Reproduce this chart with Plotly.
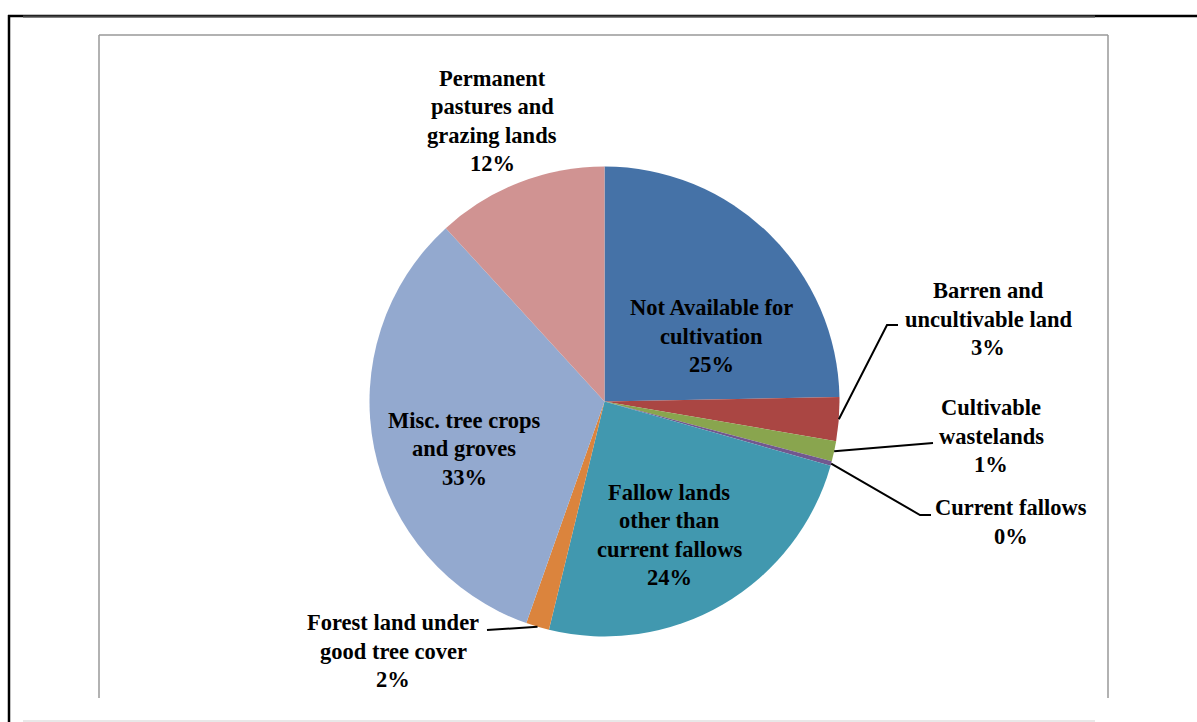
import math
import plotly.graph_objects as go

# ---- data ----
categories = [
    "Not Available for cultivation",
    "Barren and uncultivable land",
    "Cultivable wastelands",
    "Current fallows",
    "Fallow lands other than current fallows",
    "Forest land under good tree cover",
    "Misc. tree crops and groves",
    "Permanent pastures and grazing lands",
]
values = [24.7, 3.0, 1.4, 0.3, 24.4, 1.6, 32.8, 11.8]
pct_labels = ["25%", "3%", "1%", "0%", "24%", "2%", "33%", "12%"]
label_lines = [
    ["Not Available for", "cultivation"],
    ["Barren and", "uncultivable land"],
    ["Cultivable", "wastelands"],
    ["Current fallows"],
    ["Fallow lands", "other than", "current fallows"],
    ["Forest land under", "good tree cover"],
    ["Misc. tree crops", "and groves"],
    ["Permanent", "pastures and", "grazing lands"],
]
colors = ["#4572A7", "#AA4643", "#89A54E", "#71588F",
          "#4198AF", "#DB843D", "#93A9CF", "#D09392"]

# ---- layout constants (pixels) ----
W, H = 1197, 722
CX, CY, R = 604.5, 401.5, 235
LINE_H = 28.5
FONT = dict(family="Liberation Serif, Times New Roman, serif", size=22.5, color="#000000")

# label block centres (px) for each slice
label_pos = [
    (711, 336), (988, 319), (991, 436), (1011, 522),
    (669, 535), (393, 651), (464, 449), (492, 121),
]
# leader line extra points (elbow/end) for outside labels; None = no leader
leaders = [
    None,
    [(887, 325), (898, 325)],
    [(933, 443)],
    [(920, 515), (931, 515)],
    None,
    [(487, 630)],
    None,
    None,
]


def px(x):
    return x / W


def py(y):
    return 1 - y / H


fig = go.Figure()
fig.add_trace(go.Pie(
    labels=categories,
    values=values,
    sort=False,
    direction="clockwise",
    rotation=0,
    marker=dict(colors=colors, line=dict(width=0)),
    textinfo="none",
    hoverinfo="label+percent",
    showlegend=False,
    domain=dict(x=[px(CX - R), px(CX + R)], y=[py(CY + R), py(CY - R)]),
))

annotations = []
shapes = []
total = sum(values)
cum = 0.0
for i, v in enumerate(values):
    mid = (cum + v / 2) / total * 2 * math.pi
    cum += v
    lines = label_lines[i] + [pct_labels[i]]
    lx, ly = label_pos[i]
    n = len(lines)
    for j, t in enumerate(lines):
        yy = ly + (j - (n - 1) / 2) * LINE_H
        annotations.append(dict(
            x=px(lx), y=py(yy), xref="paper", yref="paper",
            text="<b>%s</b>" % t, showarrow=False, font=FONT,
            xanchor="center", yanchor="middle",
        ))
    if leaders[i]:
        sx = CX + R * math.sin(mid)
        sy = CY - R * math.cos(mid)
        pts = [(sx, sy)] + leaders[i]
        path = "M %f,%f " % (px(pts[0][0]), py(pts[0][1]))
        for (a, b) in pts[1:]:
            path += "L %f,%f " % (px(a), py(b))
        shapes.append(dict(type="path", path=path, xref="paper", yref="paper",
                           line=dict(color="#000000", width=2)))

# frame lines
def seg(x0, y0, x1, y1, color, width):
    shapes.append(dict(type="line", xref="paper", yref="paper",
                       x0=px(x0), y0=py(y0), x1=px(x1), y1=py(y1),
                       line=dict(color=color, width=width)))

seg(8, 16, 1197, 16, "#000000", 2.5)
seg(23, 16.5, 1095, 16.5, "#444444", 2)
seg(9, 15, 9, 722, "#000000", 2.5)
seg(99, 35, 1108, 35, "#999999", 1.5)
seg(99, 35, 99, 698, "#999999", 1.5)
seg(1108, 35, 1108, 698, "#999999", 1.5)
seg(23, 721, 1095, 721, "#e0e0e0", 1.5)

fig.update_layout(
    width=W, height=H,
    margin=dict(l=0, r=0, t=0, b=0),
    paper_bgcolor="white", plot_bgcolor="white",
    annotations=annotations, shapes=shapes,
)
fig.write_html("out.html")
